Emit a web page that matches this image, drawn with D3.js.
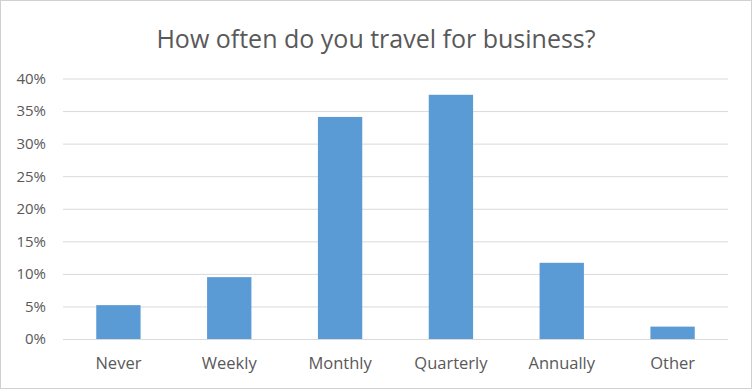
<html>
<meta charset="UTF-8">
<head>
    <title>Business Travel</title>
    <script src="https://d3js.org/d3.v7.min.js"></script>
    <style>
        body { margin: 0; background: #fff; }
        .gridLines line { stroke: #d9d9d9; }
        .gridLines .domain { stroke: none; }
        .axis .domain { stroke: none; }
        .axis line { stroke: none; }
        .axis text { fill: #595959; font-family: "Open Sans", sans-serif; }
        .y.axis text { font-size: 15px; }
        .x.axis text { font-size: 16.5px; }
    </style>
</head>
<body>
    <svg id="graph" height=389 width=752></svg>
</body>
<script>
    // chart data
    const categories = ["Never", "Weekly", "Monthly", "Quarterly", "Annually", "Other"];
    const shares = [5.2, 9.5, 34.1, 37.5, 11.7, 1.9];
    const yTicks = [0, 5, 10, 15, 20, 25, 30, 35, 40];
    const title = "How often do you travel for business?";

    const g = d3.select("svg#graph");
    const width = g.attr("width");
    const height = g.attr("height");
    const margin = {top: 78.5, right: 24, bottom: 50, left: 63};
    const chartWidth = width - margin.left - margin.right;
    const chartHeight = height - margin.top - margin.bottom;

    // outer border
    g.append("rect")
        .attr("x", 0.5).attr("y", 0.5)
        .attr("width", width - 1).attr("height", height - 1)
        .attr("fill", "white")
        .attr("stroke", "#d0d0d0");

    g.append("text")
        .attr("x", width / 2)
        .attr("y", 48)
        .attr("text-anchor", "middle")
        .attr("font-family", "'Open Sans', sans-serif")
        .attr("font-size", "25px")
        .attr("fill", "#595959")
        .text(title);

    const xScale = d3.scaleBand().domain(categories).range([0, chartWidth]).paddingInner(0.6).paddingOuter(0.3);
    const yScale = d3.scaleLinear().domain([0, 40]).range([chartHeight, 0]);

    let annotations = g.append("g").attr("transform", `translate(${margin.left},${margin.top})`);
    let chartArea = g.append("g").attr("transform", `translate(${margin.left},${margin.top})`);

    annotations.append("g")
        .attr("class", "gridLines")
        .call(d3.axisLeft(yScale).tickValues(yTicks).tickSize(-chartWidth).tickFormat(""));

    annotations.append("g")
        .attr("class", "y axis")
        .attr("transform", "translate(-17,0)")
        .call(d3.axisLeft(yScale).tickValues(yTicks).tickSize(0).tickPadding(0).tickFormat(d => d + "%"));

    annotations.append("g")
        .attr("class", "x axis")
        .attr("transform", `translate(0,${chartHeight})`)
        .call(d3.axisBottom(xScale).tickSize(0).tickPadding(18));

    chartArea.selectAll("rect")
        .data(shares)
        .join("rect")
        .attr("x", (d, i) => xScale(categories[i]))
        .attr("width", xScale.bandwidth())
        .attr("y", d => yScale(d))
        .attr("height", d => chartHeight - yScale(d))
        .attr("fill", "#5b9bd5");
</script>
</html>
